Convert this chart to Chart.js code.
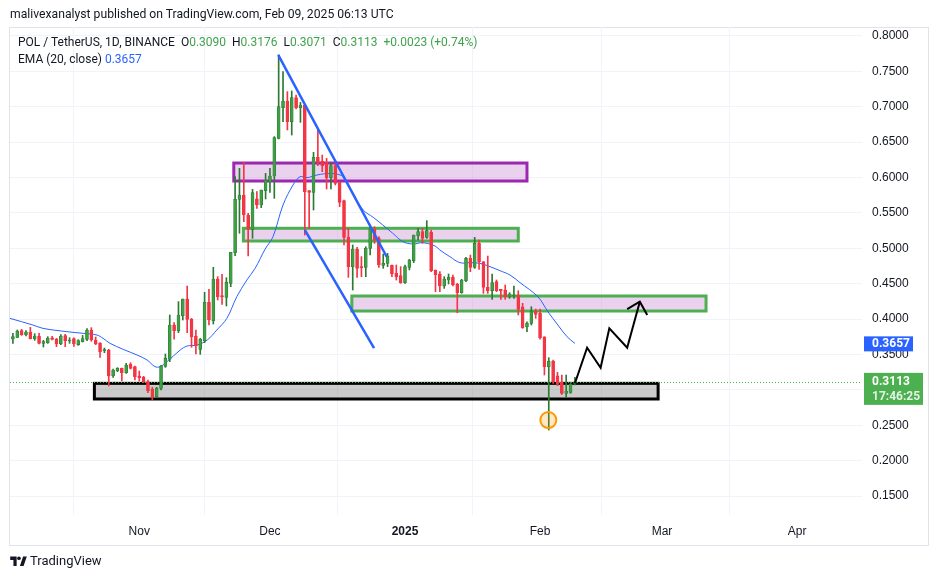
<!DOCTYPE html>
<html lang="en">
<head>
<meta charset="UTF-8" />
<title>POL / TetherUS</title>
<script src="https://cdn.jsdelivr.net/npm/chart.js"></script>
<style>
    body { margin: 0; background: #fff; font-family: Roboto, sans-serif; color: #131722; }
    #wrap { position: relative; width: 939px; height: 579px; overflow: hidden; }
    #frame { position: absolute; left: 9px; top: 27px; width: 918px; height: 517px; border: 1px solid #e0e3eb; }
    canvas { position: absolute; left: 0; top: 0; }
    .txt { position: absolute; white-space: nowrap; }
    #head { left: 10px; top: 7px; font-size: 12.2px; }
    #legend1 { left: 18px; top: 35px; font-size: 12px; }
    #legend2 { left: 18px; top: 52px; font-size: 12px; }
    #legend1 span { margin-left: 3px; }
    .g { color: #3fa34d; }
    .b { color: #2962ff; }
    #logo { left: 10px; top: 553px; font-size: 13px; display: flex; align-items: center; gap: 3px; }
</style>
</head>
<body>
<div id="wrap">
    <div id="frame"></div>
    <canvas id="chart" width="939" height="579"></canvas>
    <div class="txt" id="head">malivexanalyst published on TradingView.com, Feb 09, 2025 06:13 UTC</div>
    <div class="txt" id="legend1">POL / TetherUS, 1D, BINANCE <span>O<i class="g" style="font-style:normal">0.3090</i></span> <span>H<i class="g" style="font-style:normal">0.3176</i></span> <span>L<i class="g" style="font-style:normal">0.3071</i></span> <span>C<i class="g" style="font-style:normal">0.3113</i></span> <span class="g">+0.0023 (+0.74%)</span></div>
    <div class="txt" id="legend2">EMA (20, close) <span class="b">0.3657</span></div>
    <div class="txt" id="logo">
        <svg width="17" height="12" viewBox="0 0 36 26"><path d="M14 24H7V11H0V3h14z M29 24h-8l7-21h8z" fill="#131722"/><circle cx="19" cy="7" r="4" fill="#131722"/></svg>
        <span>TradingView</span>
    </div>
</div>

<script>
    // day index: 0 = 1 Oct 2024, one candle per day
    const firstDay = 2; // 3 Oct 2024
    const opens = [
        0.3719, 0.3742, 0.3836, 0.3780, 0.3817, 0.3723, 0.3756, 0.3657, 0.3667, 0.3737,
        0.3719, 0.3653, 0.3766, 0.3690, 0.3723, 0.3639, 0.3681, 0.3714, 0.3846, 0.3704,
        0.3662, 0.3554, 0.3563, 0.3196, 0.3271, 0.3304, 0.3243, 0.3361, 0.3328, 0.3196,
        0.3182, 0.3116, 0.3007, 0.2904, 0.3022, 0.3330, 0.3431, 0.3916, 0.3836, 0.4048,
        0.4284, 0.3996, 0.3761, 0.3573, 0.3695, 0.4237, 0.3977, 0.4566, 0.4331, 0.4307,
        0.4505, 0.4938, 0.5692, 0.5753, 0.5471, 0.5268, 0.5700, 0.5612, 0.5814, 0.5942,
        0.6022, 0.6554, 0.6987, 0.7081, 0.6790, 0.7129, 0.6987, 0.7025, 0.5814, 0.5791,
        0.6286, 0.6234, 0.6215, 0.5998, 0.6168, 0.5932, 0.5673, 0.5155, 0.4741, 0.4990,
        0.4741, 0.4731, 0.5000, 0.5268, 0.5141, 0.4759, 0.4788, 0.4764, 0.4647, 0.4614,
        0.4515, 0.4731, 0.4826, 0.5174, 0.5235, 0.5155, 0.5230, 0.4693, 0.4637, 0.4467,
        0.4552, 0.4590, 0.4496, 0.4373, 0.4543, 0.4858, 0.4731, 0.5070, 0.4811, 0.4449,
        0.4402, 0.4529, 0.4420, 0.4411, 0.4317, 0.4326, 0.4340, 0.4175, 0.3893, 0.3940,
        0.4114, 0.4081, 0.3751, 0.3328, 0.3408, 0.3200, 0.3106, 0.2951, 0.2965, 0.3090
    ];
    const highs = [
        0.3799, 0.3846, 0.3855, 0.3836, 0.3883, 0.3794, 0.3799, 0.3700, 0.3752, 0.3756,
        0.3728, 0.3780, 0.3785, 0.3737, 0.3737, 0.3709, 0.3770, 0.3865, 0.3879, 0.3747,
        0.3667, 0.3591, 0.3573, 0.3295, 0.3314, 0.3309, 0.3375, 0.3384, 0.3337, 0.3266,
        0.3191, 0.3139, 0.3036, 0.3036, 0.3346, 0.3507, 0.4058, 0.3949, 0.4246, 0.4284,
        0.4467, 0.4010, 0.3846, 0.3728, 0.4378, 0.4420, 0.4731, 0.4599, 0.4632, 0.4585,
        0.4943, 0.6012, 0.6130, 0.6215, 0.5494, 0.5833, 0.5800, 0.5824, 0.6059, 0.6130,
        0.6578, 0.7732, 0.7496, 0.7213, 0.7223, 0.7166, 0.7062, 0.7025, 0.5814, 0.6356,
        0.6695, 0.6318, 0.6271, 0.6201, 0.6248, 0.5942, 0.5683, 0.5282, 0.5047, 0.5014,
        0.4882, 0.5023, 0.5329, 0.5306, 0.5165, 0.4920, 0.4929, 0.4764, 0.4764, 0.4741,
        0.4764, 0.4844, 0.5188, 0.5282, 0.5282, 0.5391, 0.5259, 0.4693, 0.4670, 0.4599,
        0.4637, 0.4623, 0.4505, 0.4562, 0.4872, 0.4905, 0.5155, 0.5118, 0.4811, 0.4891,
        0.4637, 0.4552, 0.4420, 0.4482, 0.4373, 0.4467, 0.4401, 0.4223, 0.3963, 0.4175,
        0.4142, 0.4142, 0.3751, 0.3455, 0.3422, 0.3248, 0.3210, 0.3210, 0.3106, 0.3176
    ];
    const lows = [
        0.3657, 0.3737, 0.3770, 0.3761, 0.3719, 0.3700, 0.3648, 0.3605, 0.3657, 0.3704,
        0.3610, 0.3639, 0.3610, 0.3657, 0.3615, 0.3629, 0.3676, 0.3695, 0.3686, 0.3639,
        0.3459, 0.3525, 0.3054, 0.3177, 0.3257, 0.3125, 0.3233, 0.3295, 0.3139, 0.3125,
        0.3101, 0.2960, 0.2857, 0.2894, 0.2998, 0.3318, 0.3398, 0.3718, 0.3808, 0.3987,
        0.3808, 0.3601, 0.3507, 0.3502, 0.3667, 0.3916, 0.3930, 0.4270, 0.4208, 0.4185,
        0.4458, 0.4896, 0.5212, 0.5376, 0.4891, 0.5141, 0.5565, 0.5574, 0.5697, 0.5791,
        0.5706, 0.6545, 0.6790, 0.6672, 0.6601, 0.6968, 0.6780, 0.5188, 0.5282, 0.5541,
        0.6168, 0.6083, 0.5838, 0.5838, 0.5895, 0.5588, 0.5047, 0.4590, 0.4411, 0.4590,
        0.4599, 0.4599, 0.4906, 0.5070, 0.4731, 0.4717, 0.4741, 0.4599, 0.4552, 0.4505,
        0.4505, 0.4694, 0.4797, 0.5118, 0.5070, 0.5141, 0.4670, 0.4387, 0.4387, 0.4434,
        0.4496, 0.4467, 0.4091, 0.4364, 0.4529, 0.4670, 0.4717, 0.4703, 0.4364, 0.4364,
        0.4279, 0.4387, 0.4279, 0.4279, 0.4293, 0.4293, 0.4058, 0.3869, 0.3822, 0.3916,
        0.4011, 0.3718, 0.3210, 0.2433, 0.3092, 0.3059, 0.2937, 0.2890, 0.2951, 0.3071
    ];
    const closes = [
        0.3752, 0.3832, 0.3780, 0.3817, 0.3723, 0.3761, 0.3657, 0.3681, 0.3733, 0.3714,
        0.3653, 0.3761, 0.3690, 0.3704, 0.3653, 0.3695, 0.3723, 0.3846, 0.3704, 0.3648,
        0.3540, 0.3563, 0.3196, 0.3281, 0.3304, 0.3243, 0.3347, 0.3304, 0.3186, 0.3172,
        0.3111, 0.2989, 0.2904, 0.3022, 0.3337, 0.3445, 0.3916, 0.3836, 0.4058, 0.4284,
        0.3996, 0.3752, 0.3620, 0.3714, 0.4237, 0.3987, 0.4566, 0.4317, 0.4312, 0.4519,
        0.4943, 0.5692, 0.5753, 0.5471, 0.5268, 0.5786, 0.5612, 0.5824, 0.5965, 0.6022,
        0.6563, 0.7001, 0.7081, 0.6790, 0.7129, 0.6987, 0.7025, 0.5800, 0.5791, 0.6286,
        0.6215, 0.6168, 0.5998, 0.6168, 0.5918, 0.5650, 0.5155, 0.4741, 0.4990, 0.4717,
        0.4727, 0.5000, 0.5268, 0.5118, 0.4764, 0.4788, 0.4891, 0.4637, 0.4599, 0.4515,
        0.4741, 0.4835, 0.5188, 0.5235, 0.5141, 0.5249, 0.4684, 0.4623, 0.4467, 0.4566,
        0.4590, 0.4482, 0.4373, 0.4552, 0.4858, 0.4731, 0.5070, 0.4811, 0.4449, 0.4402,
        0.4515, 0.4402, 0.4402, 0.4317, 0.4354, 0.4340, 0.4138, 0.3879, 0.3940, 0.4105,
        0.4067, 0.3737, 0.3328, 0.3408, 0.3116, 0.3078, 0.2951, 0.2984, 0.3078, 0.3113
    ];

    // EMA (20, close)
    const emaDays = [1.3, 6.6, 8.9, 14.4, 18.1, 21.3, 22.7, 24.3, 27.3, 30.5, 32.8, 34.6, 35.8, 37.4, 40.4, 42.0, 44.3, 46.6,
        48.8, 51.1, 53.4, 55.7, 57.6, 59.9, 61.7, 64.0, 66.3, 67.9, 69.5, 71.8, 74.8, 77.1, 78.2, 80.1, 82.4, 84.7, 86.9,
        89.2, 91.5, 93.8, 96.1, 98.9, 100.0, 102.3, 104.6, 106.9, 109.2, 111.5, 113.8, 116.1, 118.4, 122.5, 124.8, 127.1, 129.2, 131.0];
    const emaValues = [0.4011, 0.3916, 0.3869, 0.3822, 0.3799, 0.3775, 0.3728, 0.3657, 0.3573, 0.3492, 0.3422, 0.3328, 0.3328, 0.3400, 0.3563, 0.3620, 0.3634, 0.3704,
        0.3846, 0.4010, 0.4317, 0.4552, 0.4717, 0.4990, 0.5164, 0.5612, 0.5895, 0.6012, 0.5998, 0.6036, 0.6059, 0.6036, 0.5989, 0.5777, 0.5541, 0.5438, 0.5329,
        0.5212, 0.5094, 0.5061, 0.5080, 0.5033, 0.4976, 0.4882, 0.4797, 0.4797, 0.4788, 0.4741, 0.4684, 0.4623, 0.4515, 0.4316, 0.4105, 0.3916, 0.3751, 0.3657];

    const xTickDays = [31, 61, 92, 123, 151, 182];
    const xTickLabels = ['Nov', 'Dec', '2025', 'Feb', 'Mar', 'Apr'];
    const yTicks = [0.15, 0.20, 0.25, 0.30, 0.35, 0.40, 0.45, 0.50, 0.55, 0.60, 0.65, 0.70, 0.75, 0.80];

    // drawn zones: purple, green (upper), green (lower), black support
    const zoneStart = [52.7, 54.9, 79.8, 20.7];
    const zoneEnd = [120.0, 118.0, 161.1, 150.1];
    const zoneTop = [0.6205, 0.5283, 0.4326, 0.3092];
    const zoneBottom = [0.5951, 0.5103, 0.4114, 0.2871];

    // trend lines and projected path
    const upperLineX = [62.9, 87.8];
    const upperLineY = [0.7732, 0.4881];
    const lowerLineX = [69.0, 84.9];
    const lowerLineY = [0.5259, 0.3591];
    const pathX = [131.0, 133.8, 136.9, 138.9, 143.0, 145.9];
    const pathY = [0.3093, 0.3596, 0.3313, 0.3870, 0.3596, 0.4246];
    const arrowX = [143.0, 145.9, 147.6];
    const arrowY = [0.4142, 0.4246, 0.4057];
    const markDay = 124.9, markPrice = 0.2574;

    const lastPrice = 0.3113, emaLast = 0.3657;

    const up = '#3e9f44', upDark = '#2b7a32', down = '#f23645';
    const zoneFill = ['rgba(206,147,216,0.42)', 'rgba(206,147,216,0.42)', 'rgba(206,147,216,0.42)', 'rgba(140,140,140,0.45)'];
    const zoneStroke = ['#9c27b0', '#4caf50', '#4caf50', '#000000'];

    const days = opens.map((o, i) => firstDay + i);
    const isUp = opens.map((o, i) => closes[i] >= o);
    const pts = (xs, ys) => xs.map((x, i) => ({ x, y: ys[i] }));

    const overlay = {
        id: 'overlay',
        beforeDatasetsDraw(chart) {
            const { ctx, chartArea: a, scales: { x, y } } = chart;
            ctx.save();
            ctx.beginPath();
            ctx.rect(a.left, a.top, a.width, a.height);
            ctx.clip();
            zoneStart.forEach((s, i) => {
                const x1 = x.getPixelForValue(s), x2 = x.getPixelForValue(zoneEnd[i]);
                const y1 = y.getPixelForValue(zoneTop[i]), y2 = y.getPixelForValue(zoneBottom[i]);
                ctx.fillStyle = zoneFill[i];
                ctx.fillRect(x1, y1, x2 - x1, y2 - y1);
                ctx.lineWidth = 3;
                ctx.strokeStyle = zoneStroke[i];
                ctx.strokeRect(x1, y1, x2 - x1, y2 - y1);
            });
            // last price dotted line
            const yp = Math.round(y.getPixelForValue(lastPrice)) + 0.5;
            ctx.setLineDash([1, 2]);
            ctx.lineWidth = 1;
            ctx.strokeStyle = '#4caf50';
            ctx.beginPath();
            ctx.moveTo(a.left, yp);
            ctx.lineTo(a.right, yp);
            ctx.stroke();
            ctx.restore();
        },
        afterDatasetsDraw(chart) {
            const { ctx, scales: { x, y } } = chart;
            ctx.save();
            ctx.beginPath();
            ctx.arc(x.getPixelForValue(markDay), y.getPixelForValue(markPrice), 8, 0, Math.PI * 2);
            ctx.fillStyle = 'rgba(255,152,0,0.22)';
            ctx.fill();
            ctx.lineWidth = 2;
            ctx.strokeStyle = '#ff9800';
            ctx.stroke();
            ctx.restore();
        },
        afterDraw(chart) {
            const { ctx, chartArea: a, scales: { y } } = chart;
            ctx.save();
            ctx.font = 'bold 12px Roboto';
            ctx.textBaseline = 'middle';
            const ye = y.getPixelForValue(emaLast);
            ctx.fillStyle = '#2962ff';
            ctx.fillRect(a.right + 2, ye - 7, 49, 15);
            ctx.fillStyle = '#fff';
            ctx.fillText(emaLast.toFixed(4), a.right + 10, ye + 0.5);
            const yl = y.getPixelForValue(lastPrice);
            ctx.fillStyle = '#4caf50';
            ctx.fillRect(a.right + 2, yl - 9, 59, 32);
            ctx.fillStyle = '#fff';
            ctx.fillText(lastPrice.toFixed(4), a.right + 10, yl + 0.5);
            ctx.fillStyle = 'rgba(255,255,255,0.85)';
            ctx.fillText('17:46:25', a.right + 10, yl + 15.5);
            ctx.restore();
        }
    };

    new Chart(document.getElementById('chart'), {
        type: 'bar',
        data: {
            datasets: [
                {
                    type: 'line', label: 'EMA', order: 5,
                    data: pts(emaDays, emaValues),
                    borderColor: '#2962ff', borderWidth: 1, pointRadius: 0, tension: 0.35
                },
                {
                    label: 'wick', order: 4, grouped: false, barThickness: 1,
                    data: days.map((d, i) => ({ x: d, y: [lows[i], highs[i]] })),
                    backgroundColor: isUp.map(u => u ? upDark : down)
                },
                {
                    label: 'body', order: 3, grouped: false, barThickness: 3, minBarLength: 1,
                    data: days.map((d, i) => ({ x: d, y: [opens[i], closes[i]] })),
                    backgroundColor: isUp.map(u => u ? up : down),
                    borderColor: isUp.map(u => u ? upDark : down),
                    borderWidth: 0.6, borderSkipped: false
                },
                {
                    type: 'line', label: 'upper', order: 2,
                    data: pts(upperLineX, upperLineY),
                    borderColor: '#2962ff', borderWidth: 2.5, pointRadius: 0
                },
                {
                    type: 'line', label: 'lower', order: 2,
                    data: pts(lowerLineX, lowerLineY),
                    borderColor: '#2962ff', borderWidth: 2.5, pointRadius: 0
                },
                {
                    type: 'line', label: 'path', order: 1,
                    data: pts(pathX, pathY),
                    borderColor: '#000', borderWidth: 2, pointRadius: 0
                },
                {
                    type: 'line', label: 'arrow', order: 1,
                    data: pts(arrowX, arrowY),
                    borderColor: '#000', borderWidth: 2, pointRadius: 0
                }
            ]
        },
        options: {
            responsive: false,
            animation: false,
            devicePixelRatio: 1,
            layout: { padding: { left: 10, top: 27, right: 11, bottom: 34 } },
            plugins: { legend: { display: false }, tooltip: { enabled: false } },
            scales: {
                x: {
                    type: 'linear', min: 1.33, max: 196.9, offset: false,
                    afterBuildTicks: s => { s.ticks = xTickDays.map(v => ({ value: v })); },
                    afterFit: s => { s.height = 30; },
                    grid: { color: '#f0f3fa', drawTicks: false },
                    border: { display: false },
                    ticks: {
                        autoSkip: false, maxRotation: 0, padding: 9, color: '#131722',
                        font: c => ({ size: 12, weight: c.tick && c.tick.value === 92 ? 'bold' : 'normal' }),
                        callback: v => xTickLabels[xTickDays.indexOf(v)]
                    }
                },
                y: {
                    position: 'right', min: 0.1232, max: 0.8127,
                    afterBuildTicks: s => { s.ticks = yTicks.map(v => ({ value: v })); },
                    afterFit: s => { s.width = 66; },
                    grid: { color: '#f0f3fa', drawTicks: false },
                    border: { display: false },
                    ticks: { padding: 10, color: '#131722', font: { size: 12 }, callback: v => v.toFixed(4) }
                }
            }
        },
        plugins: [overlay]
    });
</script>
</body>
</html>
